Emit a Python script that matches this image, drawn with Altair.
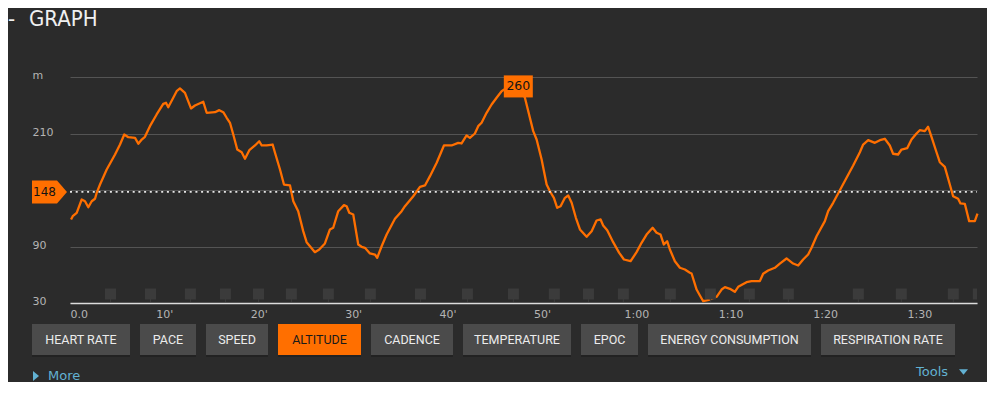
import altair as alt
import pandas as pd

# ---------------- data ----------------
minutes = [0.11, 0.29, 0.71, 1.24, 1.59, 1.94, 2.30, 2.65, 2.83, 3.18, 3.89, 4.77, 5.30, 5.75, 6.18,
           6.89, 7.24, 7.60, 7.94, 8.47, 9.18, 9.88, 10.17, 10.41, 10.94, 11.30, 11.65, 12.18, 12.82,
           13.24, 14.12, 14.48, 15.36, 15.82, 16.24, 16.60, 16.95, 17.30, 17.72, 18.19, 18.54, 19.00,
           19.60, 20.05, 20.31, 20.84, 21.47, 21.72, 22.25, 22.67, 23.31, 23.66, 24.18, 24.71, 25.07,
           25.95, 26.41, 27.01, 27.54, 27.89, 28.42, 29.03, 29.31, 29.59, 30.01, 30.54, 30.90, 31.25,
           31.78, 32.31, 32.55, 33.02, 33.55, 34.43, 35.14, 35.49, 36.37, 37.08, 37.61, 38.14, 38.85,
           39.62, 40.43, 41.13, 41.49, 42.02, 42.37, 42.90, 43.25, 43.61, 44.14, 44.67, 45.20, 45.73,
           46.01, 46.82, 47.67, 48.20, 49.08, 49.44, 49.97, 50.50, 50.85, 51.27, 51.62, 51.98, 52.44,
           52.79, 53.15, 53.60, 54.03, 54.74, 55.27, 55.79, 56.22, 56.49, 56.92, 57.55, 58.19, 58.69,
           59.40, 60.03, 60.56, 61.09, 61.73, 62.15, 62.57, 62.92, 63.27, 63.56, 64.09, 64.62, 65.15,
           65.68, 65.86, 66.39, 66.74, 67.09, 67.80, 68.51, 69.04, 69.39, 69.92, 70.44, 70.80, 71.68,
           72.21, 73.09, 73.44, 73.97, 74.68, 75.21, 75.92, 76.62, 77.15, 77.68, 78.21, 78.57, 79.10,
           79.98, 80.33, 80.86, 81.57, 82.28, 82.98, 83.69, 84.04, 84.57, 85.28, 85.81, 86.33, 86.86,
           87.21, 87.74, 88.10, 88.70, 89.16, 89.69, 90.04, 90.57, 90.92, 91.28, 91.81, 92.16, 92.69,
           93.22, 93.57, 94.10, 94.35, 94.81, 95.27, 95.87, 96.15]
altitude = [118.7, 122.2, 125.8, 139.9, 138.1, 131.7, 138.1, 140.7, 147.0, 155.8, 171.8, 187.7, 198.3,
            209.0, 206.1, 205.4, 199.1, 203.6, 206.5, 217.8, 230.2, 241.5, 242.6, 237.9, 247.9, 254.9,
            257.8, 253.2, 236.6, 239.7, 243.7, 232.0, 232.6, 234.8, 232.6, 226.7, 221.4, 209.0, 193.0,
            190.1, 183.1, 192.3, 197.3, 201.8, 197.3, 197.3, 198.3, 189.5, 171.8, 155.8, 154.8, 138.1,
            127.5, 106.3, 94.6, 84.0, 86.8, 93.2, 108.1, 109.9, 127.5, 133.9, 132.8, 125.8, 124.0, 92.1,
            89.7, 88.6, 82.6, 81.5, 78.0, 90.3, 102.7, 119.4, 127.5, 132.8, 143.4, 153.4, 154.8, 164.7,
            178.9, 197.3, 197.3, 200.1, 199.4, 207.9, 205.4, 210.0, 217.8, 221.4, 232.0, 240.8, 247.9,
            254.9, 256.7, 260.0, 258.9, 247.9, 212.5, 203.6, 182.4, 155.8, 148.7, 141.7, 131.1, 132.8,
            141.7, 144.2, 136.4, 120.5, 108.1, 100.3, 106.3, 117.6, 118.7, 112.3, 107.3, 94.6, 83.3,
            76.2, 74.4, 84.0, 93.9, 102.7, 109.9, 104.6, 102.7, 92.1, 95.6, 86.8, 74.4, 67.4, 65.6,
            62.1, 61.3, 44.3, 38.0, 31.9, 33.7, 36.6, 44.3, 46.8, 45.1, 41.9, 47.2, 52.1, 53.2, 53.2,
            61.0, 64.5, 67.4, 71.9, 77.3, 71.9, 69.8, 76.2, 81.5, 88.6, 100.9, 116.9, 127.5, 136.4,
            149.8, 163.0, 176.0, 190.1, 198.3, 202.9, 200.1, 202.9, 204.4, 197.3, 188.5, 187.7, 193.0,
            194.4, 203.6, 210.0, 213.5, 212.5, 217.1, 206.5, 190.1, 179.5, 174.6, 155.8, 143.4, 140.7,
            135.7, 135.3, 116.9, 116.9, 125.0]
lap_minutes = [4.29, 8.53, 12.76, 16.47, 19.97, 23.46, 27.38, 31.83, 37.13, 42.11, 46.98, 51.32,
               54.93, 58.63, 63.61, 67.85, 71.98, 76.11, 83.53, 88.08, 93.59, 96.24]
y_ticks = [30, 90, 150, 210, 270]
x_ticks = [0, 10, 20, 30, 40, 50, 60, 70, 80, 90]
avg_altitude = [148]
peak_minute = [47.5]
peak_altitude = [260]
button_labels = ["HEART RATE", "PACE", "SPEED", "ALTITUDE", "CADENCE", "TEMPERATURE", "EPOC",
                 "ENERGY CONSUMPTION", "RESPIRATION RATE"]
active_button = "ALTITUDE"
title_text = ["GRAPH"]
more_text = ["More"]
tools_text = ["Tools"]

# ---------------- layout / style ----------------
W, H = 907, 226
X_DOMAIN = [0, 96.1]
Y_DOMAIN = [30, 270]
BG = "#2b2b2b"
ORANGE = "#ff6f00"
GRID = "#545454"
LABEL = "#b4b4b4"
BLUE = "#62b1d2"
BTN = "#4b4b4b"
button_widths = [98, 56, 62, 83, 82, 108, 57, 163, 134]
button_gap = 10
button_start = -38

xs = alt.Scale(domain=X_DOMAIN, nice=False, zero=False)
ys = alt.Scale(domain=Y_DOMAIN, nice=False, zero=False)

line_df = pd.DataFrame({"t": minutes, "alt": altitude})

x_label_expr = ("datum.value == 0 ? '0.0' : (datum.value < 60 ? datum.value + \"'\" : "
                "floor(datum.value / 60) + ':' + (datum.value % 60 < 10 ? '0' : '') + (datum.value % 60))")
y_label_expr = "datum.value == 270 ? 'm' : (datum.value == 150 ? '' : datum.label)"

line = alt.Chart(line_df).mark_line(color=ORANGE, strokeWidth=2.3, strokeJoin="round").encode(
    x=alt.X("t:Q", scale=xs, title=None,
            axis=alt.Axis(values=x_ticks, labelExpr=x_label_expr, grid=False, domain=True,
                          domainColor="#dcdcdc", domainWidth=1.6, tickSize=0, labelPadding=5,
                          labelFlush=True, labelColor=LABEL, labelFontSize=11,
                          labelFont="DejaVu Sans")),
    y=alt.Y("alt:Q", scale=ys, title=None,
            axis=alt.Axis(values=y_ticks, labelExpr=y_label_expr, grid=True, gridColor=GRID,
                          gridWidth=1, domain=False, tickSize=0, labelPadding=38,
                          labelAlign="left", labelBaseline="middle", labelOffset=-1.5,
                          labelColor=LABEL, labelFontSize=11, labelFont="DejaVu Sans")),
)

laps_df = pd.DataFrame({"t": lap_minutes})
laps = alt.Chart(laps_df).mark_square(size=121, color="#3b3b3b", opacity=1, clip=True).encode(
    x=alt.X("t:Q", scale=xs, axis=None),
    y=alt.value(217),
)
lap_stubs = alt.Chart(laps_df).mark_rule(color="#3b3b3b", strokeWidth=1, clip=True).encode(
    x=alt.X("t:Q", scale=xs, axis=None),
    y=alt.value(222), y2=alt.value(225),
)

avg_df = pd.DataFrame({"v": avg_altitude, "lab": [str(v) for v in avg_altitude]})
avg_rule = alt.Chart(avg_df).mark_rule(color="#e6e6e6", strokeWidth=1.6, strokeDash=[2, 3.7]).encode(
    y=alt.Y("v:Q", scale=ys, axis=None),
    x=alt.value(0), x2=alt.value(W),
)
tag_path = "M-1,-0.657 L0.43,-0.657 L1,0 L0.43,0.657 L-1,0.657 Z"
avg_tag = alt.Chart(avg_df).mark_point(shape=tag_path, size=1225, filled=True, color=ORANGE,
                                        opacity=1, strokeWidth=0).encode(
    y=alt.Y("v:Q", scale=ys, axis=None), x=alt.value(-20.5))
avg_text = alt.Chart(avg_df).mark_text(color="#141414", fontSize=12, font="DejaVu Sans",
                                       align="center", baseline="middle").encode(
    y=alt.Y("v:Q", scale=ys, axis=None), x=alt.value(-25.5), text="lab:N")

peak_df = pd.DataFrame({"t": peak_minute, "v": peak_altitude, "lab": [str(v) for v in peak_altitude]})
box_path = "M-1,-0.76 L1,-0.76 L1,0.76 L-1,0.76 Z"
peak_box = alt.Chart(peak_df).mark_point(shape=box_path, size=841, filled=True, color=ORANGE,
                                         opacity=1, strokeWidth=0).encode(
    x=alt.X("t:Q", scale=xs, axis=None), y=alt.Y("v:Q", scale=ys, axis=None))
peak_text = alt.Chart(peak_df).mark_text(color="#141414", fontSize=12.5, font="DejaVu Sans",
                                         baseline="middle").encode(
    x=alt.X("t:Q", scale=xs, axis=None), y=alt.Y("v:Q", scale=ys, axis=None), text="lab:N")

# buttons
lefts = []
pos = button_start
for w in button_widths:
    lefts.append(pos)
    pos += w + button_gap
btn_df = pd.DataFrame({
    "label": button_labels,
    "x0": lefts,
    "x1": [l + w for l, w in zip(lefts, button_widths)],
    "xc": [l + w / 2 for l, w in zip(lefts, button_widths)],
    "fill": [ORANGE if b == active_button else BTN for b in button_labels],
    "ink": ["#1a1a1a" if b == active_button else "#ececec" for b in button_labels],
})
btn_shadow = alt.Chart(btn_df).mark_rect(color="#1f1f1f", opacity=0.7).encode(
    x=alt.X("x0:Q", scale=None, axis=None), x2="x1:Q", y=alt.value(249), y2=alt.value(280))
btn_rect = alt.Chart(btn_df).mark_rect().encode(
    x=alt.X("x0:Q", scale=None, axis=None), x2="x1:Q", y=alt.value(247), y2=alt.value(278),
    color=alt.Color("fill:N", scale=None))
btn_text = alt.Chart(btn_df).mark_text(fontSize=12.5, font="Roboto", baseline="middle",
                                       align="center").encode(
    x=alt.X("xc:Q", scale=None, axis=None), y=alt.value(262.5), text="label:N",
    color=alt.Color("ink:N", scale=None))

# title and links
TITLE_FONT = "Liberation Sans Narrow, DejaVu Sans Condensed, Liberation Sans"
title_dash = alt.Chart(pd.DataFrame({"s": ["-"]})).mark_text(
    fontSize=22, font=TITLE_FONT, color="#f0f0f0", align="left", baseline="alphabetic").encode(
    x=alt.value(-62), y=alt.value(-51), text="s:N")
title = alt.Chart(pd.DataFrame({"s": title_text})).mark_text(
    fontSize=22, font=TITLE_FONT, color="#f0f0f0", align="left", baseline="alphabetic").encode(
    x=alt.value(-41), y=alt.value(-51), text="s:N")
more_tri = alt.Chart(pd.DataFrame({"s": more_text})).mark_point(
    shape="M-0.6,-1 L0.6,0 L-0.6,1 Z", size=100, filled=True, color=BLUE, opacity=1,
    strokeWidth=0).encode(x=alt.value(-34), y=alt.value(299))
more = alt.Chart(pd.DataFrame({"s": more_text})).mark_text(
    fontSize=13, font="DejaVu Sans", color=BLUE, align="left", baseline="middle").encode(
    x=alt.value(-22), y=alt.value(299), text="s:N")
tools = alt.Chart(pd.DataFrame({"s": tools_text})).mark_text(
    fontSize=13, font="DejaVu Sans", color=BLUE, align="left", baseline="middle").encode(
    x=alt.value(846), y=alt.value(295), text="s:N")
tools_tri = alt.Chart(pd.DataFrame({"s": tools_text})).mark_point(
    shape="M-1,-0.6 L1,-0.6 L0,0.6 Z", size=81, filled=True, color=BLUE, opacity=1,
    strokeWidth=0).encode(x=alt.value(893.5), y=alt.value(295))

chart = alt.layer(
    line, laps, lap_stubs, avg_rule, avg_tag, avg_text, peak_box, peak_text,
    btn_shadow, btn_rect, btn_text, title_dash, title, more_tri, more, tools, tools_tri,
).resolve_scale(
    x="independent", y="independent"
).properties(
    width=W, height=H,
    autosize=alt.AutoSizeParams(type="none"),
    padding={"left": 62, "top": 69, "right": 10, "bottom": 79},
    background=BG,
).configure_view(stroke=None)

chart.save("out.html", embed_options={"renderer": "svg", "actions": False})
